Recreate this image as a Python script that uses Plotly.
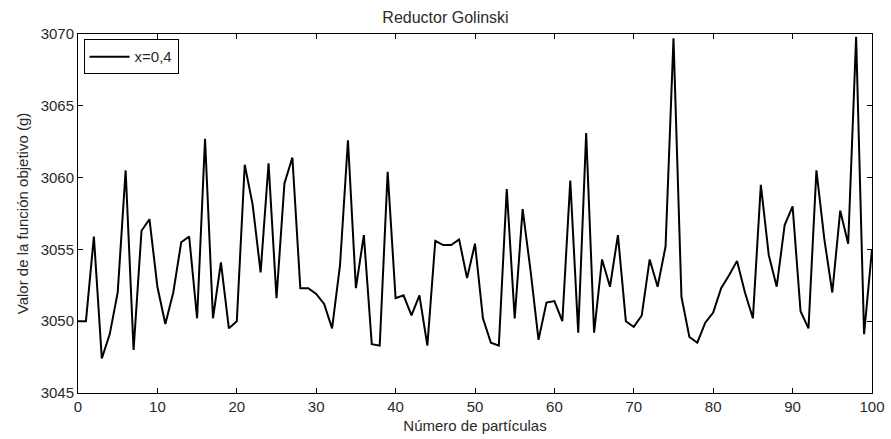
import plotly.graph_objects as go

particulas = list(range(0, 101))
valores = [
    3050.0, 3050.0, 3055.9, 3047.4, 3049.1, 3052.0, 3060.5, 3048.0, 3056.3, 3057.1,
    3052.4, 3049.8, 3052.0, 3055.5, 3055.9, 3050.2, 3062.7, 3050.2, 3054.1, 3049.5,
    3050.0, 3060.9, 3058.1, 3053.4, 3061.0, 3051.6, 3059.6, 3061.4, 3052.3, 3052.3,
    3051.9, 3051.2, 3049.5, 3053.9, 3062.6, 3052.3, 3056.0, 3048.4, 3048.3, 3060.4,
    3051.6, 3051.8, 3050.4, 3051.8, 3048.3, 3055.6, 3055.3, 3055.3, 3055.7, 3053.0,
    3055.4, 3050.2, 3048.5, 3048.3, 3059.2, 3050.2, 3057.8, 3053.5, 3048.7, 3051.3,
    3051.4, 3050.0, 3059.8, 3049.2, 3063.1, 3049.2, 3054.3, 3052.4, 3056.0, 3050.0,
    3049.6, 3050.4, 3054.3, 3052.4, 3055.2, 3069.7, 3051.7, 3048.9, 3048.5, 3049.9,
    3050.6, 3052.3, 3053.2, 3054.2, 3052.0, 3050.2, 3059.5, 3054.6, 3052.4, 3056.7,
    3058.0, 3050.7, 3049.5, 3060.5, 3055.7, 3052.0, 3057.7, 3055.4, 3069.8, 3049.1,
    3055.0,
]
x_ticks = [0, 10, 20, 30, 40, 50, 60, 70, 80, 90, 100]
y_ticks = [3045, 3050, 3055, 3060, 3065, 3070]

FONT = "Liberation Sans, Arial, sans-serif"
TXT = "#2a2a2a"

fig = go.Figure()
fig.add_trace(go.Scatter(
    x=particulas, y=valores, mode="lines", name="x=0,4",
    line=dict(color="black", width=2),
))

axis_common = dict(
    showgrid=False, zeroline=False, showline=True, linecolor="black", linewidth=1,
    mirror="allticks", ticks="inside", ticklen=5, tickcolor="black",
    automargin=False,
    tickfont=dict(family=FONT, size=15, color=TXT),
)

fig.update_layout(
    width=891, height=439,
    margin=dict(l=78, r=19, t=34, b=46),
    paper_bgcolor="white", plot_bgcolor="white",
    font=dict(family=FONT, color=TXT),
    title=dict(text="Reductor Golinski", x=0.5, xanchor="center",
               y=1 - 17 / 439, yanchor="middle",
               font=dict(family=FONT, size=16, color=TXT)),
    xaxis=dict(range=[0, 100], tickvals=x_ticks,
               title=dict(text="Número de partículas", standoff=6,
                          font=dict(family=FONT, size=15, color=TXT)),
               **axis_common),
    yaxis=dict(range=[3045, 3070], tickvals=y_ticks,
               title=dict(text="Valor de la función objetivo (g)", standoff=8,
                          font=dict(family=FONT, size=15, color=TXT)),
               **axis_common),
    showlegend=True,
    legend=dict(x=0.007, y=0.985, xanchor="left", yanchor="top",
                bordercolor="black", borderwidth=1, bgcolor="white",
                font=dict(family=FONT, size=15, color=TXT),
                itemwidth=40, tracegroupgap=0),
)

fig.write_html("out.html")
